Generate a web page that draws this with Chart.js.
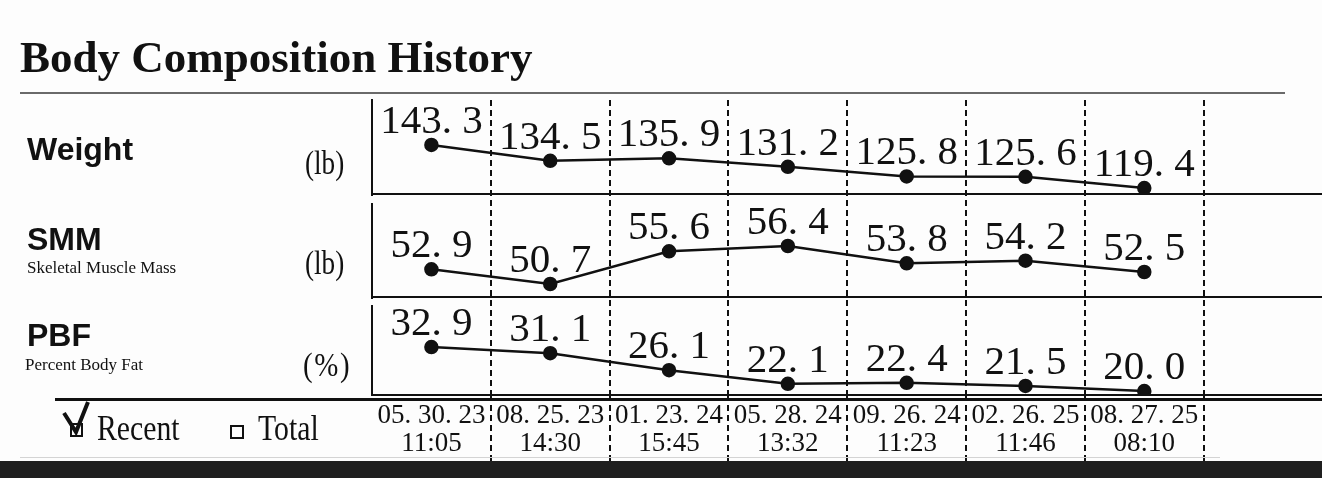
<!DOCTYPE html>
<html>
<head>
<meta charset="utf-8">
<title>Body Composition History</title>
<script src="https://cdn.jsdelivr.net/npm/chart.js@4.4.1/dist/chart.umd.min.js"></script>
<style>
  html, body { margin: 0; padding: 0; background: #fff; }
  #page { position: relative; width: 1322px; height: 478px; overflow: hidden; background: #fdfdfd; color: #111; }
  #page canvas { position: absolute; left: 0; top: 0; z-index: 1; }
  .txt { position: absolute; line-height: 1; white-space: nowrap; transform-origin: 0 0; z-index: 2; }
  .serif { font-family: "Liberation Serif", "Times New Roman", serif; }
  .sans { font-family: "Liberation Sans", Arial, sans-serif; font-weight: bold; }
  .rule { position: absolute; z-index: 2; }
</style>
</head>
<body>
<div id="page">
  <!-- a little wider than the page: the x axis keeps a few px of right padding -->
  <canvas id="historyChart" width="1331" height="478"></canvas>

  <div class="txt serif" style="left:20px; top:35px; font-size:45px; font-weight:bold;">Body Composition History</div>
  <div class="rule" style="left:20px; top:92px; width:1265px; height:2px; background:#6a6a6a;"></div>

  <div class="txt sans" style="left:27px; top:133px; font-size:32px;">Weight</div>
  <div class="txt serif" style="left:305px; top:146px; font-size:34px; transform:scaleX(0.8);">(lb)</div>

  <div class="txt sans" style="left:27px; top:223px; font-size:32px;">SMM</div>
  <div class="txt serif" style="left:27px; top:259px; font-size:17px;">Skeletal Muscle Mass</div>
  <div class="txt serif" style="left:305px; top:246px; font-size:34px; transform:scaleX(0.8);">(lb)</div>

  <div class="txt sans" style="left:27px; top:319px; font-size:32px;">PBF</div>
  <div class="txt serif" style="left:25px; top:356px; font-size:17px;">Percent Body Fat</div>
  <div class="txt serif" style="left:303px; top:348px; font-size:34px; letter-spacing:2px; transform:scaleX(0.85);">(%)</div>

  <!-- gaps in the left border between panels -->
  <div class="rule" style="left:368px; top:196px; width:8px; height:7px; background:#fdfdfd;"></div>
  <div class="rule" style="left:368px; top:299px; width:8px; height:6px; background:#fdfdfd;"></div>

  <div class="rule" style="left:55px; top:398px; width:1267px; height:3px; background:#111;"></div>

  <div class="rule" style="left:70px; top:423px; width:9px; height:10px; border:2px solid #111; background:#fdfdfd;"></div>
  <svg class="rule" style="left:0; top:0;" width="120" height="478">
    <polyline points="64,413 76,432 88,402" fill="none" stroke="#111" stroke-width="4" stroke-linejoin="miter"/>
  </svg>
  <div class="txt serif" style="left:97px; top:411px; font-size:35px; transform:scaleX(0.85);">Recent</div>
  <div class="rule" style="left:230px; top:425px; width:10px; height:10px; border:2px solid #111;"></div>
  <div class="txt serif" style="left:258px; top:411px; font-size:35px; transform:scaleX(0.85);">Total</div>

  <div class="rule" style="left:20px; top:457px; width:1200px; height:1px; background:#d4d4d4;"></div>
  <div class="rule" style="left:0; top:461px; width:1322px; height:17px; background:#1f1f1f;"></div>
</div>

<script>
const testDates = ['05. 30. 23', '08. 25. 23', '01. 23. 24', '05. 28. 24', '09. 26. 24', '02. 26. 25', '08. 27. 25'];
const testTimes = ['11:05', '14:30', '15:45', '13:32', '11:23', '11:46', '08:10'];

const weightLb = [143.3, 134.5, 135.9, 131.2, 125.8, 125.6, 119.4];
const smmLb = [52.9, 50.7, 55.6, 56.4, 53.8, 54.2, 52.5];
const pbfPct = [32.9, 31.1, 26.1, 22.1, 22.4, 21.5, 20.0];

// one spare column on the right, the printout leaves it blank
const columnLabels = testDates.map((d, i) => [d, testTimes[i]]).concat([['', '']]);

const ink = '#111';

// printed value above every dot
const valueLabels = {
    id: 'valueLabels',
    afterDatasetsDraw(chart) {
        const ctx = chart.ctx;
        ctx.save();
        ctx.font = '41px "Liberation Serif"';
        ctx.fillStyle = ink;
        ctx.textAlign = 'center';
        ctx.textBaseline = 'alphabetic';
        chart.data.datasets.forEach((ds, i) => {
            chart.getDatasetMeta(i).data.forEach((pt, j) => {
                const v = ds.data[j];
                if (v == null) return;
                ctx.fillText(v.toFixed(1).replace('.', '. '), pt.x, pt.y - 12);
            });
        });
        ctx.restore();
    }
};

function panelAxis(min, max, weight) {
    return {
        type: 'linear',
        position: 'left',
        stack: 'panels',
        stackWeight: weight,
        min: min,
        max: max,
        ticks: { display: false },
        grid: { drawTicks: false, color: ink, lineWidth: 2 },
        border: { display: true, color: ink, width: 2 },
        // only one grid line: the bottom edge of the panel
        afterBuildTicks: (axis) => { axis.ticks = [{ value: axis.min }]; }
    };
}

function lineSet(label, data, axisId) {
    return {
        label: label,
        data: data,
        yAxisID: axisId,
        borderColor: ink,
        borderWidth: 2.5,
        backgroundColor: ink,
        pointBackgroundColor: ink,
        pointBorderColor: ink,
        pointRadius: 6,
        tension: 0,
        fill: false
    };
}

const dashColor = (c) => (c.type === 'tick' && c.index > 0) ? ink : 'rgba(0,0,0,0)';

const ctx = document.getElementById('historyChart').getContext('2d');
const historyChart = new Chart(ctx, {
    type: 'line',
    data: {
        labels: columnLabels,
        datasets: [
            lineSet('Weight', weightLb, 'wt'),
            lineSet('SMM', smmLb, 'smm'),
            lineSet('PBF', pbfPct, 'pbf')
        ]
    },
    options: {
        responsive: false,
        animation: false,
        events: [],
        layout: { padding: { left: 372, top: 100, right: 0, bottom: 78 } },
        plugins: {
            legend: { display: false },
            tooltip: { enabled: false }
        },
        scales: {
            x: {
                type: 'category',
                offset: true,
                grid: {
                    offset: true,
                    color: dashColor,
                    tickColor: dashColor,
                    lineWidth: 2,
                    tickWidth: 2,
                    tickBorderDash: [6, 4],
                    drawTicks: true,
                    tickLength: 75
                },
                border: { display: false, dash: [6, 4] },
                ticks: {
                    color: ink,
                    autoSkip: false,
                    maxRotation: 0,
                    mirror: true,
                    padding: -35,
                    font: { family: '"Liberation Serif"', size: 27, lineHeight: 1.02 }
                }
            },
            pbf: panelAxis(18.83, 47.56, 98),
            smm: panelAxis(48.75, 64.2, 103),
            wt: panelAxis(116.07, 168.3, 94)
        }
    },
    plugins: [valueLabels]
});
</script>
</body>
</html>
